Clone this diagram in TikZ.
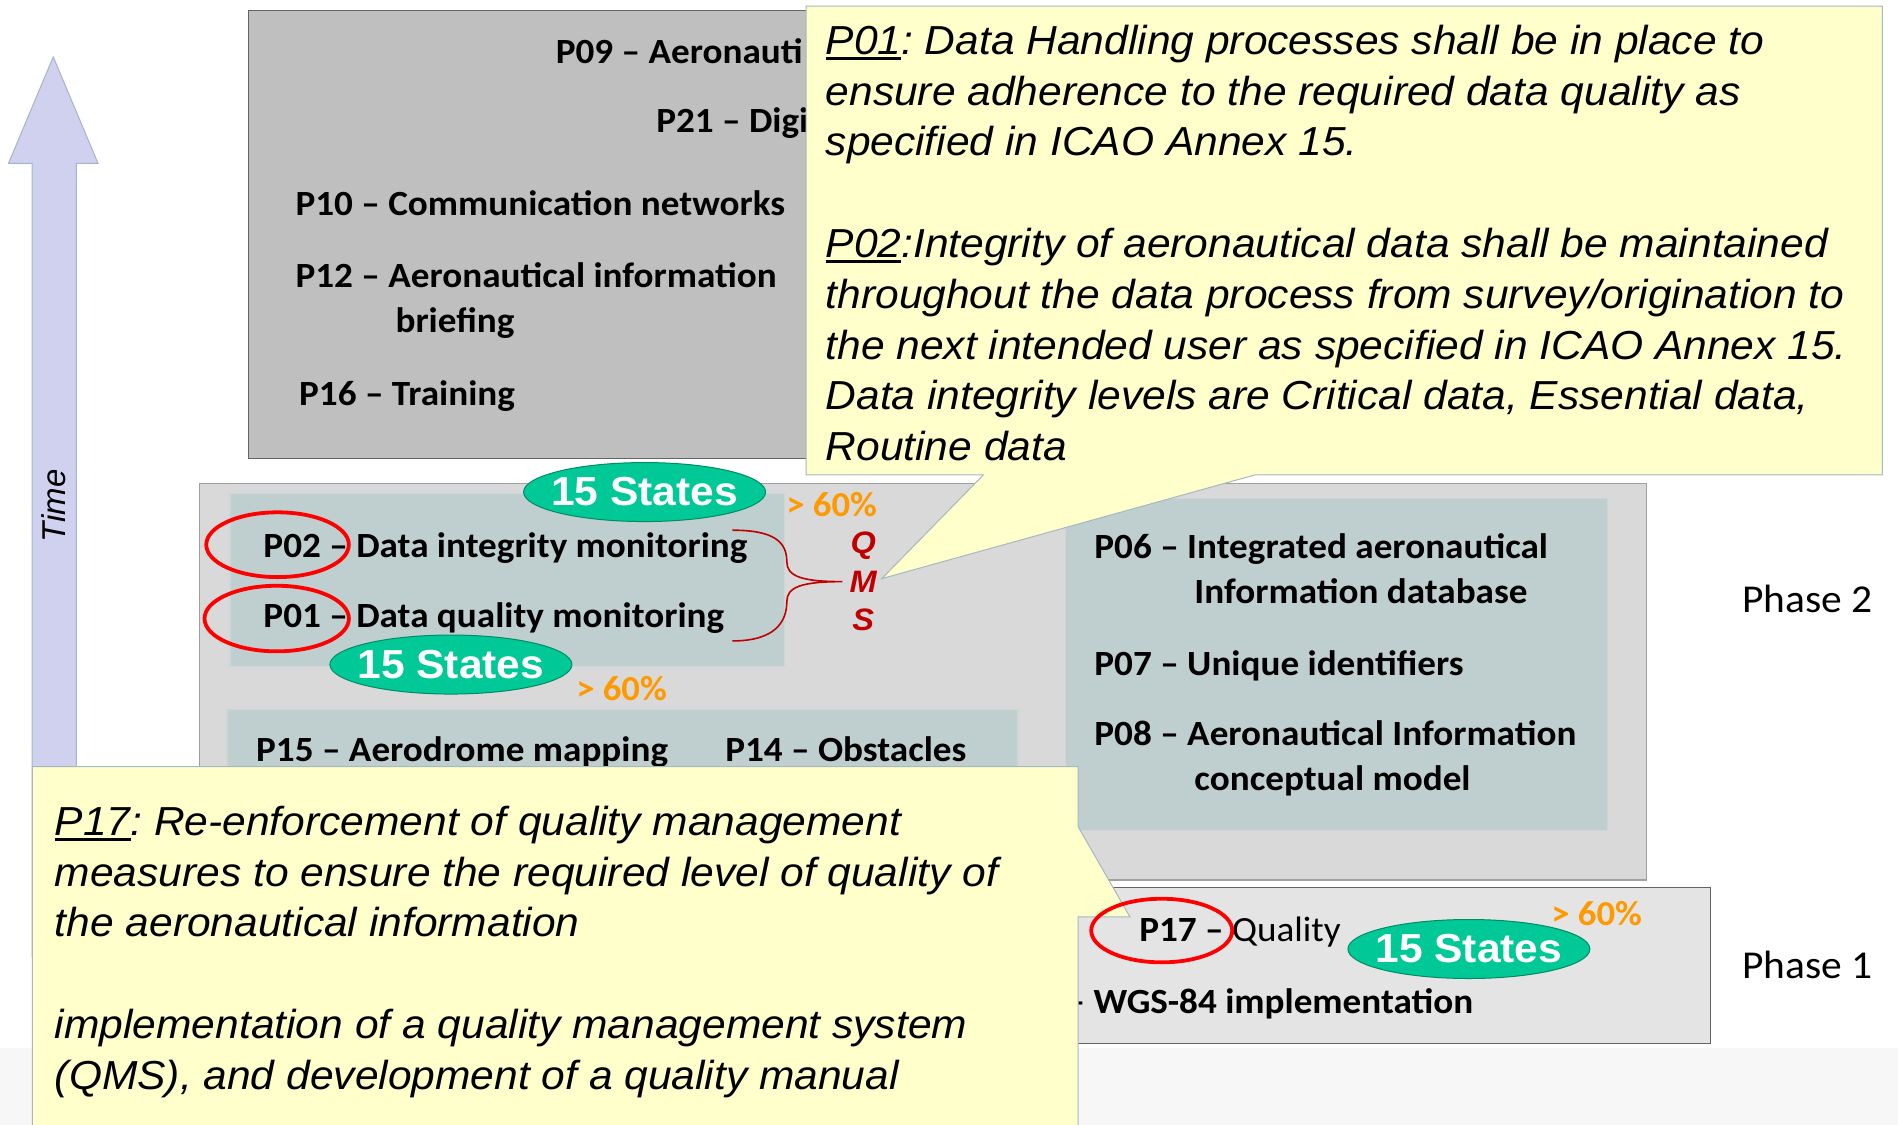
\documentclass[tikz,border=0pt]{standalone}
\usepackage{fontspec}
\setmainfont{Carlito}[FakeStretch=1.05]
\newfontfamily\arialfont{Liberation Sans}[FakeStretch=1.05]
\newfontfamily\timefont{Liberation Sans}
\usetikzlibrary{positioning, shapes.geometric, fit, calc}
\def\PhaseThreeColor{rgb,255:red,191;green,191;blue,191}
\def\PhaseTwoColor{rgb,255:red,217;green,217;blue,217}
\def\PhaseOneColor{rgb,255:red,228;green,228;blue,228}
\def\GroupColor{rgb,255:red,191;green,206;blue,207}
\def\NoteColor{rgb,255:red,255;green,255;blue,204}
\def\StatesColor{rgb,255:red,0;green,201;blue,151}
\def\PercentColor{rgb,255:red,255;green,153;blue,0}
\def\QMSColor{rgb,255:red,192;green,0;blue,0}
\def\TimeColor{rgb,255:red,207;green,209;blue,238}
\def\FooterColor{rgb,255:red,247;green,247;blue,247}
\def\DarkEdge{rgb,255:red,100;green,100;blue,100}
\def\MidEdge{rgb,255:red,160;green,160;blue,160}
\def\GroupEdge{rgb,255:red,205;green,215;blue,215}
\def\NoteEdge{rgb,255:red,165;green,185;blue,190}
\def\StatesEdge{rgb,255:red,0;green,140;blue,100}
\def\TimeEdge{rgb,255:red,165;green,180;blue,205}
\newcommand{\pref}[1]{\setbox0=\hbox{#1}\rlap{\rule[-5.5pt]{\wd0}{3pt}}\box0}
\frenchspacing

\begin{document}
\begin{tikzpicture}[
    x=1.2105pt, y=-1.2105pt,
    phasethree/.style={rectangle, draw=\DarkEdge, fill=\PhaseThreeColor, line width=1.2pt, inner sep=0pt},
    phasetwo/.style={rectangle, draw=\MidEdge, fill=\PhaseTwoColor, line width=1.2pt, inner sep=0pt},
    phaseone/.style={rectangle, draw=\DarkEdge, fill=\PhaseOneColor, line width=1.2pt, inner sep=0pt},
    groupbox/.style={rectangle, draw=\GroupEdge, fill=\GroupColor, line width=1.2pt, inner sep=0pt},
    projlabel/.style={font=\fontsize{35.4}{45}\selectfont\bfseries, anchor=west, inner sep=0pt, text height=22.4pt, text depth=0pt},
    projlong/.style={font=\fontsize{35.4}{45}\selectfont\bfseries, anchor=north west, inner sep=0pt, align=left},
    ring/.style={ellipse, draw=red, line width=3.8pt, inner sep=0pt},
    states/.style={ellipse, draw=\StatesEdge, fill=\StatesColor, line width=1pt, inner sep=0pt, minimum width=242pt, minimum height=59pt},
    statestext/.style={text=white, font=\arialfont\fontsize{40.5}{40.5}\selectfont\bfseries, inner sep=0pt},
    percent/.style={text=\PercentColor, font=\fontsize{35}{35}\selectfont\bfseries, inner sep=0pt},
    qms/.style={text=\QMSColor, font=\arialfont\fontsize{31}{38.4}\selectfont\bfseries\itshape, align=center, inner sep=0pt},
    brace/.style={draw=\QMSColor, line width=1.6pt},
    note/.style={fill=\NoteColor, draw=\NoteEdge, line width=1pt},
    notetext/.style={font=\arialfont\fontsize{40.5}{50.8}\selectfont\itshape, anchor=north west, align=left, inner sep=0pt},
    phase/.style={font=\fontsize{39.5}{40}\selectfont, inner sep=0pt},
    timearrow/.style={fill=\TimeColor, draw=\TimeEdge, line width=1pt},
    timelabel/.style={font=\timefont\fontsize{33}{33}\selectfont\itshape, inner sep=0pt}
]
\useasboundingbox (0,0) rectangle (1568,929);

%%%%%%%%%%%%%%%%%%%%%%%%%%%%%%%%%%%%%%%%%%%%%%%%%%%%%%%%%%%%%%%%%%%
% Footer band and time axis
%%%%%%%%%%%%%%%%%%%%%%%%%%%%%%%%%%%%%%%%%%%%%%%%%%%%%%%%%%%%%%%%%%%
\fill[fill=\FooterColor] (0,865.5) rectangle (1568,935);

\filldraw[timearrow] (44,47) -- (81,135) -- (63,135) -- (63,790) -- (26.5,790) -- (26.5,135) -- (7,135) -- cycle;
\node[timelabel, rotate=90] (time) at (44,418) {Time};

%%%%%%%%%%%%%%%%%%%%%%%%%%%%%%%%%%%%%%%%%%%%%%%%%%%%%%%%%%%%%%%%%%%
% Upper block (Phase 3)
%%%%%%%%%%%%%%%%%%%%%%%%%%%%%%%%%%%%%%%%%%%%%%%%%%%%%%%%%%%%%%%%%%%
\node[phasethree, fit={(205,9) (900,379)}] (phase_three) {};

\node[projlabel] (p09) at (459,43) {P09 – Aeronauti};
\node[projlabel] (p21) at (542,100.5) {P21 – Digi};
\node[projlabel] (p10) at (244,169) {P10 – Communication networks};
\node[projlong] (p12) at (244,216.8) {P12 – Aeronautical information\\\hspace*{100pt}briefing};
\node[projlabel] (p16) at (247,326) {P16 – Training};

%%%%%%%%%%%%%%%%%%%%%%%%%%%%%%%%%%%%%%%%%%%%%%%%%%%%%%%%%%%%%%%%%%%
% Phase 2
%%%%%%%%%%%%%%%%%%%%%%%%%%%%%%%%%%%%%%%%%%%%%%%%%%%%%%%%%%%%%%%%%%%
\node[phasetwo, fit={(164.5,399.5) (1360,727)}] (phase_two) {};
\node[groupbox, fit={(190,408) (648,550.5)}] (group_monitor) {};
\node[groupbox, fit={(187.5,586) (841,705)}] (group_mapping) {};
\node[groupbox, fit={(880.5,412) (1328,686)}] (group_database) {};

% Monitoring
\node[projlabel] (p02) at (217.5,451) {P02 – Data integrity monitoring};
\node[projlabel] (p01) at (217.5,509) {P01 – Data quality monitoring};

% Mapping
\node[projlabel] (p15) at (211.5,620) {P15 – Aerodrome mapping};
\node[projlabel] (p14) at (599,620) {P14 – Obstacles};

% Database
\node[projlong] (p06) at (904,440.3) {P06 – Integrated aeronautical\\\hspace*{100pt}Information database};
\node[projlabel] (p07) at (904,549) {P07 – Unique identifiers};
\node[projlong] (p08) at (904,594.8) {P08 – Aeronautical Information\\\hspace*{100pt}conceptual model};

% States reached
\node[states, label={[statestext]center:15 States}] (states_p02) at (532.5,406.5) {};
\node[percent] (pct_p02) at (687,416.5) {> 60\%};
\node[states, label={[statestext]center:15 States}] (states_p01) at (372.5,549) {};
\node[percent] (pct_p01) at (513.5,568.5) {> 60\%};

% QMS brace
\coordinate (brace_top) at (605,438);
\coordinate (brace_bot) at (605,529.5);
\coordinate (brace_tip) at (696,480.5);
\node[qms, right=7pt of brace_tip] (qms) {Q\\M\\S};
\draw[brace] (brace_top) .. controls (640,438) and (650,448) .. (650,464)
    .. controls (650,476) and (662,480.5) .. (brace_tip)
    .. controls (662,480.5) and (650,485) .. (650,497)
    .. controls (650,514) and (640,529.5) .. (brace_bot);

%%%%%%%%%%%%%%%%%%%%%%%%%%%%%%%%%%%%%%%%%%%%%%%%%%%%%%%%%%%%%%%%%%%
% Phase 1
%%%%%%%%%%%%%%%%%%%%%%%%%%%%%%%%%%%%%%%%%%%%%%%%%%%%%%%%%%%%%%%%%%%
\node[phaseone, fit={(600,733) (1413,862)}] (phase_one) {};

\node[projlabel] (p17) at (941,768.7) {P17 – \mdseries Quality};
\node[projlabel] (p05) at (881,828) {– WGS-84 implementation};
\node[states, label={[statestext]center:15 States}] (states_p17) at (1213.5,784) {};
\node[percent] (pct_p17) at (1319,754.5) {> 60\%};

% Phase names
\node[phase] (phase2_name) at (1493,495) {Phase 2};
\node[phase] (phase1_name) at (1493,797) {Phase 1};

%%%%%%%%%%%%%%%%%%%%%%%%%%%%%%%%%%%%%%%%%%%%%%%%%%%%%%%%%%%%%%%%%%%
% Call-outs
%%%%%%%%%%%%%%%%%%%%%%%%%%%%%%%%%%%%%%%%%%%%%%%%%%%%%%%%%%%%%%%%%%%
\coordinate (p01_tip) at (728.5,478);
\filldraw[note] (666,5) -- (1555,5) -- (1555,392.4) -- (1036.5,392.4) -- (p01_tip)
    -- (812.3,392.4) -- (666,392.4) -- cycle;
\node[notetext] (p01_note) at (682,20.5)
    {\pref{P01}: Data Handling processes shall be in place to\\
     ensure adherence to the required data quality as\\
     specified in ICAO Annex 15.\\[50.8pt]
     \pref{P02}:Integrity of aeronautical data shall be maintained\\
     throughout the data process from survey/origination to\\
     the next intended user as specified in ICAO Annex 15.\\
     Data integrity levels are Critical data, Essential data,\\
     Routine data};

\coordinate (p17_tip) at (933.5,757.5);
\filldraw[note] (26.7,633.4) -- (890.7,633.4) -- (890.7,683) -- (p17_tip)
    -- (890.7,757.5) -- (890.7,935) -- (26.7,935) -- cycle;
\node[notetext] (p17_note) at (45.2,665.7)
    {\pref{P17}: Re-enforcement of quality management\\
     measures to ensure the required level of quality of\\
     the aeronautical information\\[50.8pt]
     implementation of a quality management system\\
     (QMS), and development of a quality manual};

%%%%%%%%%%%%%%%%%%%%%%%%%%%%%%%%%%%%%%%%%%%%%%%%%%%%%%%%%%%%%%%%%%%
% Highlight rings
%%%%%%%%%%%%%%%%%%%%%%%%%%%%%%%%%%%%%%%%%%%%%%%%%%%%%%%%%%%%%%%%%%%
\node[ring, minimum width=142.6pt, minimum height=64.8pt] (ring_p02) at (229.3,450) {};
\node[ring, minimum width=144.4pt, minimum height=65.6pt] (ring_p01) at (228.6,511) {};
\node[ring, minimum width=141pt, minimum height=63.6pt] (ring_p17) at (959.75,768.75) {};

\end{tikzpicture}
\end{document}
